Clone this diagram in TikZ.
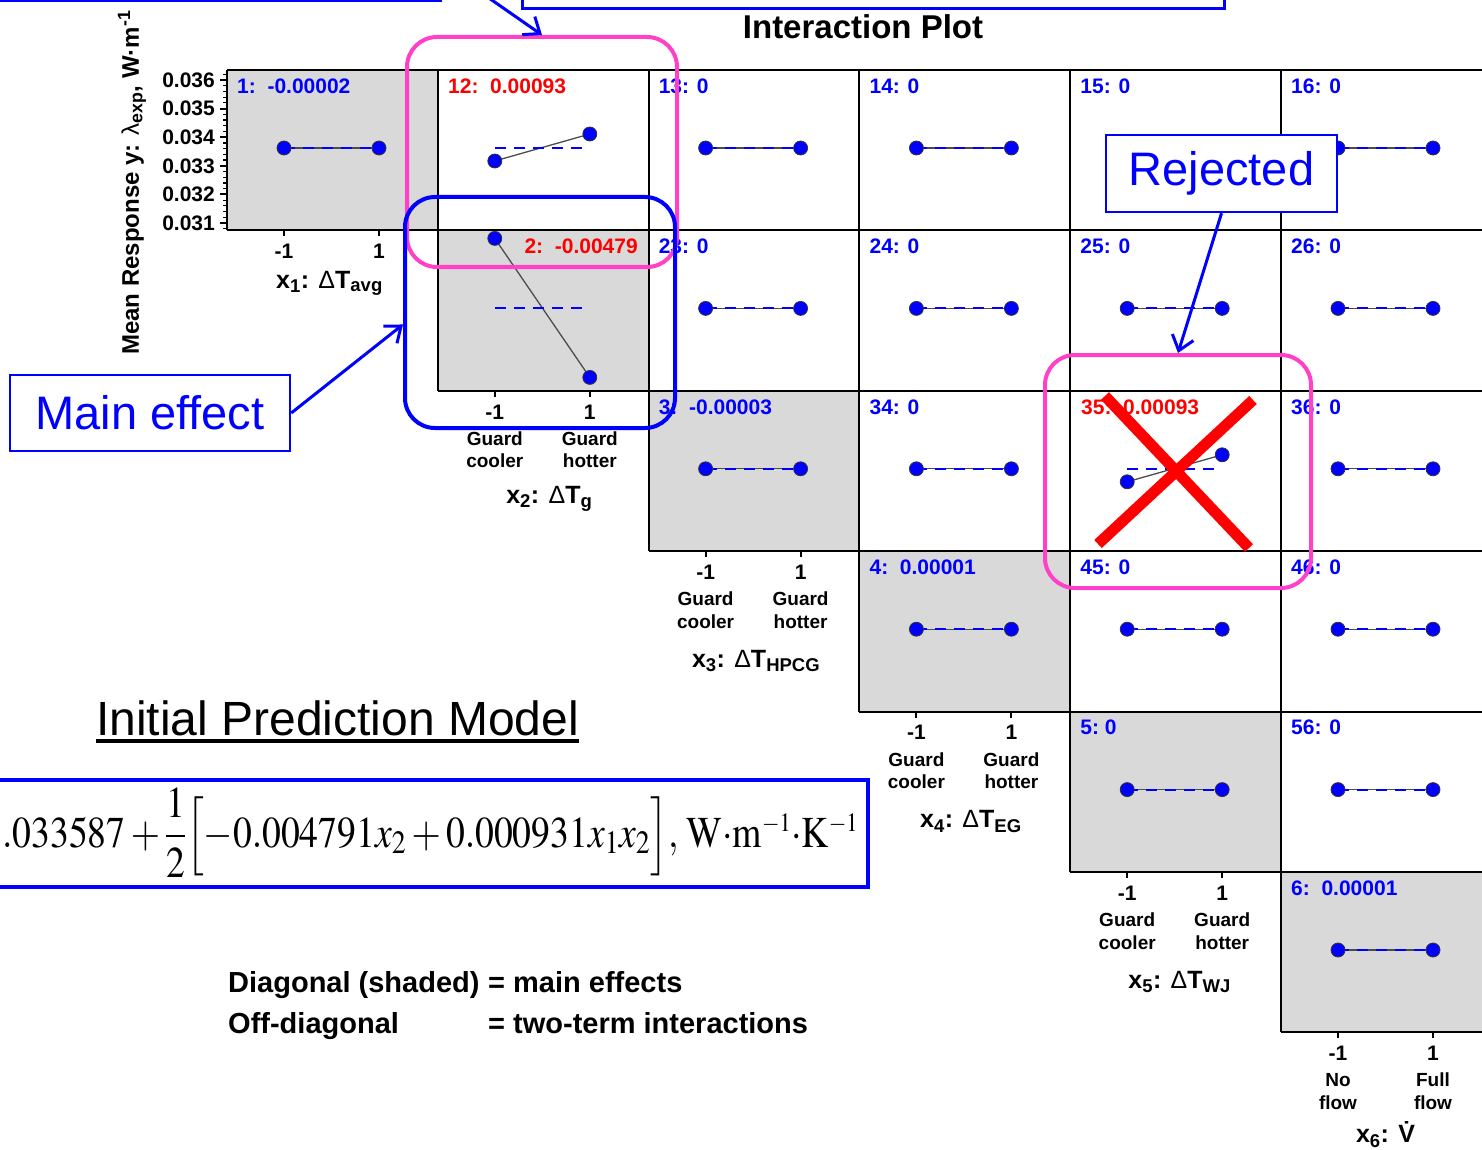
\documentclass[tikz,border=0pt]{standalone}
\usepackage{amsmath}
\usepackage{mathptmx}
\usepackage[no-math]{fontspec}
\setmainfont{Liberation Sans}
\usepackage{graphicx}
\usetikzlibrary{arrows.meta}

\definecolor{plotblue}{RGB}{0,0,255}
\definecolor{hotpink}{RGB}{255,64,200}
\definecolor{cellgray}{RGB}{217,217,217}

\newcommand\fsz[2]{\fontsize{#1}{#2}\selectfont}
\newcommand\dT[1]{{\mdseries Δ}T\textsubscript{#1}}
\newcommand\factor[2]{x\textsubscript{#1}: #2}
\newcommand\cellw{210.8}
\newcommand\cellh{160.4}

\begin{document}
\begin{tikzpicture}[x=1pt, y=-1pt, >={Straight Barb[length=14pt,width=22pt]},
    gridline/.style={draw=black, line width=2pt},
    dot/.style={circle, fill=plotblue, draw=black!80, line width=0.8pt, inner sep=0pt, minimum size=14pt},
    fitline/.style={draw=black!70, line width=1.3pt},
    meanline/.style={draw=plotblue, line width=2pt, dash pattern=on 11pt off 8pt},
    celllbl/.style={anchor=west, inner sep=0pt, text=plotblue, font=\fsz{21}{25}\bfseries},
    ticklbl/.style={inner sep=0pt, font=\fsz{21}{24}\bfseries},
    levellbl/.style={inner sep=0pt, align=center, font=\fsz{19}{22.5}\bfseries},
    factorlbl/.style={inner sep=0pt, font=\fsz{25}{28}\bfseries},
    markbox/.style={draw=#1, line width=4pt, rounded corners=30pt},
    callout/.style={draw=plotblue, line width=2.5pt, fill=white, text=plotblue, font=\fsz{47}{54}, inner sep=0pt},
    pointer/.style={->, draw=plotblue, line width=3pt},
    redcross/.style={draw=red, line width=11pt}]

  \path[use as bounding box, clip] (0,0) rectangle (1482,1150);

  % shaded diagonal = main effects
  \foreach \k in {0,...,5}
    \fill[cellgray] (227+\cellw*\k,70+\cellh*\k) rectangle ++(\cellw,\cellh);

  % grid of the interaction matrix
  \foreach \k in {0,...,6} {
    \pgfmathsetmacro\xs{227+\cellw*max(\k-1,0)}
    \pgfmathsetmacro\ys{70+\cellh*\k}
    \draw[gridline] (\xs,\ys) -- (1500,\ys);
  }
  \foreach \k in {0,...,5} {
    \pgfmathsetmacro\xs{227+\cellw*\k}
    \pgfmathsetmacro\ys{70+\cellh*(\k+1)}
    \draw[gridline] (\xs,70) -- (\xs,\ys);
  }

  % response axis on the first cell
  \foreach \i in {-1,...,26}
    \draw[gridline, line width=1.2pt] (227,80+5.72*\i) -- (223,80+5.72*\i);
  \foreach \v [count=\i from 0] in {36,35,34,33,32,31} {
    \draw[gridline] (227,80+28.6*\i) -- (220,80+28.6*\i);
    \node[ticklbl, anchor=east] (ytick\v) at (215,80+28.6*\i) {0.0\v};
  }
  \node[rotate=90, anchor=west, inner sep=0pt, font=\fsz{24}{28}\bfseries] (ylab) at (132,355)
    {Mean Response y: {\mdseries λ}\textsubscript{exp}, W·m\textsuperscript{-1}};

  % factor levels under the diagonal
  \foreach \k in {1,...,6} {
    \pgfmathsetmacro\xa{227+\cellw*(\k-1)+57}
    \pgfmathsetmacro\xb{\xa+95}
    \pgfmathsetmacro\yb{70+\cellh*\k}
    \draw[gridline] (\xa,\yb) -- (\xa,\yb+6);
    \draw[gridline] (\xb,\yb) -- (\xb,\yb+6);
    \node[ticklbl] (lvlm\k) at (\xa,\yb+21) {-1};
    \node[ticklbl] (lvlp\k) at (\xb,\yb+21) {1};
  }
  \foreach \k/\lo/\hi in {2/{Guard\\cooler}/{Guard\\hotter}, 3/{Guard\\cooler}/{Guard\\hotter},
      4/{Guard\\cooler}/{Guard\\hotter}, 5/{Guard\\cooler}/{Guard\\hotter}, 6/{No\\flow}/{Full\\flow}} {
    \pgfmathsetmacro\xa{227+\cellw*(\k-1)+57}
    \pgfmathsetmacro\yb{70+\cellh*\k}
    \node[levellbl] (lowtxt\k) at (\xa,\yb+59) {\lo};
    \node[levellbl] (hightxt\k) at (\xa+95,\yb+59) {\hi};
  }
  \foreach \k/\dx/\dy/\name in {1/-2/53/{\factor{1}{\dT{avg}}}, 2/7/108/{\factor{2}{\dT{g}}},
      3/3/110/{\factor{3}{\dT{HPCG}}}, 4/7/110/{\factor{4}{\dT{EG}}},
      5/5/110/{\factor{5}{\dT{WJ}}}, 6/0/102/{\factor{6}{\.{V}}}} {
    \pgfmathsetmacro\xa{227+\cellw*(\k-1)+104.5+\dx}
    \pgfmathsetmacro\yb{70+\cellh*\k+\dy}
    \node[factorlbl] (fac\k) at (\xa,\yb) {\name};
  }

  % mean response at the two levels, one cell per effect
  \foreach \r/\c/\yl/\yr in {1/1/78/78, 1/2/91/64, 1/3/78/78, 1/4/78/78, 1/5/78/78, 1/6/78/78,
      2/2/8/147, 2/3/78/78, 2/4/78/78, 2/5/78/78, 2/6/78/78,
      3/3/78/78, 3/4/78/78, 3/5/91/64, 3/6/78/78,
      4/4/78/78, 4/5/78/78, 4/6/78/78, 5/5/78/78, 5/6/78/78, 6/6/78/78} {
    \pgfmathsetmacro\xl{227+\cellw*(\c-1)}
    \pgfmathsetmacro\yt{70+\cellh*(\r-1)}
    \coordinate (lo\r\c) at (\xl+57,\yt+\yl);
    \coordinate (hi\r\c) at (\xl+152,\yt+\yr);
    \draw[fitline] (lo\r\c) -- (hi\r\c);
    \draw[meanline] (\xl+57,\yt+78) -- (\xl+152,\yt+78);
    \node[dot] (dlo\r\c) at (lo\r\c) {};
    \node[dot] (dhi\r\c) at (hi\r\c) {};
  }

  % effect estimates
  \foreach \r/\c in {1/3,1/4,1/5,1/6,2/3,2/4,2/5,2/6,3/4,3/6,4/5,4/6,5/6} {
    \pgfmathsetmacro\xl{227+\cellw*(\c-1)+10}
    \pgfmathsetmacro\yt{70+\cellh*(\r-1)+16}
    \node[celllbl] (lbl\r\c) at (\xl,\yt) {\r\c: 0};
  }
  \foreach \k/\v in {1/{\ \ -0.00002}, 3/{\ \ -0.00003}, 4/{\ \ 0.00001}, 5/{\ 0}, 6/{\ \ 0.00001}} {
    \pgfmathsetmacro\xl{227+\cellw*(\k-1)+10}
    \pgfmathsetmacro\yt{70+\cellh*(\k-1)+16}
    \node[celllbl] (lbl\k\k) at (\xl,\yt) {\k:\v};
  }
  \node[celllbl, text=red] (lbl12) at (448,86) {12:\ \ 0.00093};
  \node[celllbl, text=red, anchor=east] (lbl22) at (638,246) {2:\ \ -0.00479};
  \node[celllbl, text=red] (lbl35) at (1081,407) {35:\ \ 0.00093};

  \node[inner sep=0pt, font=\fsz{33}{38}\bfseries] (title) at (863,27) {Interaction Plot};

  % model and legend
  \node[anchor=base west, inner sep=0pt, font=\fsz{48}{55}] (modeltitle) at (96,735) {Initial Prediction Model};
  \draw[line width=3.5pt] ([yshift=-6pt]modeltitle.base west) -- ([yshift=-6pt]modeltitle.base east);
  \draw[plotblue, line width=4pt] (-10,780) rectangle (868,887);
  \node[anchor=base west, inner sep=0pt, font=\fsz{44}{50}] (model) at (2,847)
    {\resizebox{856pt}{\height}{$.033587+\dfrac{1}{2}\Bigl[-0.004791x_2+0.000931x_1x_2\Bigr],\,\mathrm{W{\cdot}m^{\scriptscriptstyle-1}{\cdot}K^{\scriptscriptstyle-1}}$}};
  \node[anchor=base west, inner sep=0pt, font=\fsz{29}{34}\bfseries] (legdiag) at (228,992) {Diagonal (shaded)};
  \node[anchor=base west, inner sep=0pt, font=\fsz{29}{34}\bfseries] (legmain) at (488,992) {= main effects};
  \node[anchor=base west, inner sep=0pt, font=\fsz{29}{34}\bfseries] (legoff) at (228,1033) {Off-diagonal};
  \node[anchor=base west, inner sep=0pt, font=\fsz{29}{34}\bfseries] (legint) at (488,1033) {= two-term interactions};

  % highlighted cells
  \node[markbox=hotpink, minimum width=270pt, minimum height=230pt] (intbox) at (542,152) {};
  \node[markbox=plotblue, minimum width=270pt, minimum height=231pt] (mainbox) at (540,312.5) {};
  \node[markbox=hotpink, minimum width=266pt, minimum height=233pt] (rejbox) at (1178,471.5) {};
  \draw[redcross] (1098,544) -- (1253,400);
  \draw[redcross] (1105,396) -- (1249,548);

  % callouts
  \draw[plotblue, line width=3pt] (-10,-10) rectangle (440,1);
  \draw[plotblue, line width=3pt] (522,-10) rectangle (1224,9);
  \coordinate (topsrc) at (486,-4);
  \draw[pointer] (topsrc) -- (intbox.north);
  \node[callout, minimum width=280pt, minimum height=76pt] (mainlbl) at (150,413) {Main effect};
  \draw[pointer] (mainlbl.east) -- (mainbox.185);
  \node[callout, minimum width=231pt, minimum height=77pt] (rejlbl) at (1221.5,173.5) {Rejected};
  \draw[pointer] (rejlbl.south) -- (rejbox.north);
\end{tikzpicture}
\end{document}
